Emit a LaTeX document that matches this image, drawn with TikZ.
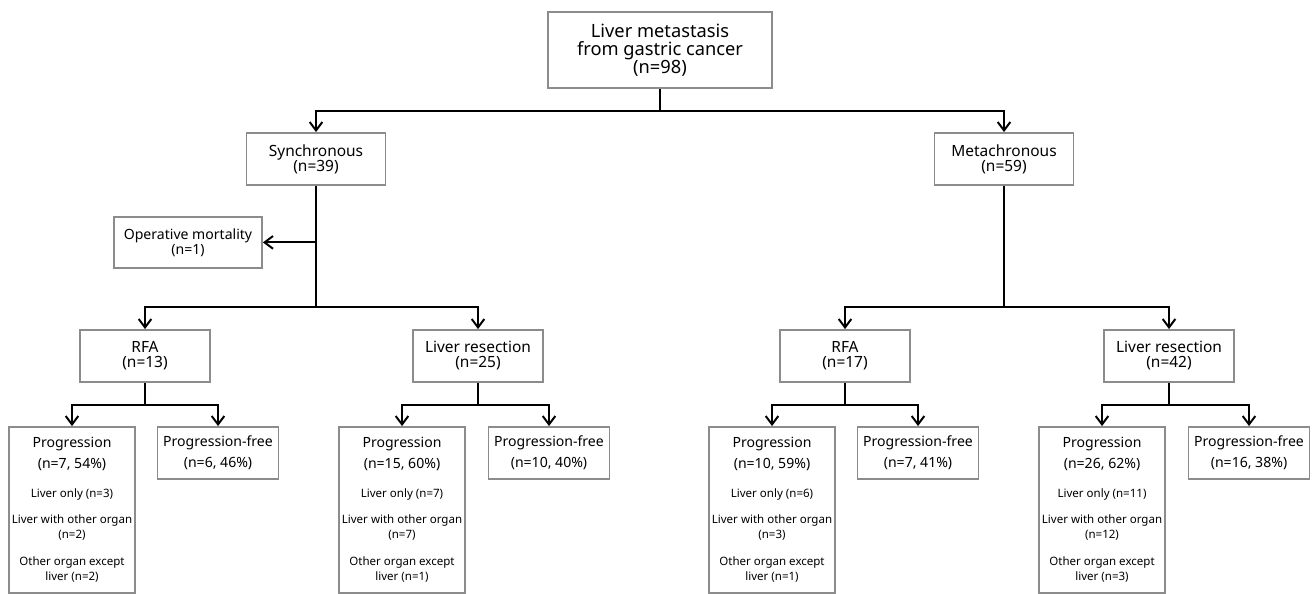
\documentclass[tikz,border=0pt]{standalone}
\usepackage{fontspec}
\setmainfont{Noto Sans}
\usetikzlibrary{arrows,arrows.meta,positioning}

\newcommand{\bigline}[1]{{\fontsize{10}{11}\selectfont #1}}

\begin{document}
\begin{tikzpicture}[
    >={Straight Barb[length=6pt,width=9pt]},
    every node/.style={
        rectangle,
        draw=black!45,
        line width=1.3pt,
        align=center,
        inner sep=2pt
    },
    topbox/.style={minimum width=5.6cm, minimum height=1.9cm, font=\fontsize{13}{13}\selectfont},
    groupbox/.style={minimum width=3.475cm, minimum height=1.3cm, font=\fontsize{11}{10.7}\selectfont},
    deathbox/.style={minimum width=3.7cm, minimum height=1.275cm, font=\fontsize{10}{8.6}\selectfont},
    treatbox/.style={minimum width=3.25cm, minimum height=1.3cm, font=\fontsize{11}{10.7}\selectfont},
    progbox/.style={minimum width=3cm, minimum height=4.15cm, font=\fontsize{8.2}{11}\selectfont},
    freebox/.style={minimum width=3.025cm, minimum height=1.3cm, font=\fontsize{10}{15}\selectfont},
    link/.style={->, black, line width=1.4pt}
]
    \useasboundingbox (0, 0) rectangle (32.8, -14.85);

    %top
    \node (liver_metastasis) [topbox, shift={(16.5, -1.25)}]
    {
        Liver metastasis\\from gastric cancer\\(n=98)
    };

    %timing
    \node (synchronous) [groupbox, shift={(7.9, -3.975)}]
    {
        Synchronous\\(n=39)
    };
    \node (metachronous) [groupbox, shift={(25.1, -3.975)}]
    {
        Metachronous\\(n=59)
    };
    \node (operative_mortality) [deathbox, shift={(4.7, -6.06)}]
    {
        Operative mortality\\(n=1)
    };

    %treatment
    \node (rfa_sync) [treatbox, shift={(3.625, -8.9)}]
    {
        RFA\\(n=13)
    };
    \node (resection_sync) [treatbox, shift={(11.95, -8.9)}]
    {
        Liver resection\\(n=25)
    };
    \node (rfa_meta) [treatbox, shift={(21.125, -8.9)}]
    {
        RFA\\(n=17)
    };
    \node (resection_meta) [treatbox, shift={(29.225, -8.9)}]
    {
        Liver resection\\(n=42)
    };

    %outcome
    \node (progression_rfa_sync) [progbox, shift={(1.8, -12.75)}]
    {
        \bigline{Progression}\\[4pt]\bigline{(n=7, 54\%)}\\[9pt]
        Liver only (n=3)\\[7.5pt]
        Liver with other organ\\(n=2)\\[8pt]
        Other organ except\\liver (n=2)
    };
    \node (free_rfa_sync) [freebox, shift={(5.45, -11.325)}]
    {
        Progression-free\\(n=6, 46\%)
    };

    \node (progression_resection_sync) [progbox, shift={(10.05, -12.75)}]
    {
        \bigline{Progression}\\[4pt]\bigline{(n=15, 60\%)}\\[9pt]
        Liver only (n=7)\\[7.5pt]
        Liver with other organ\\(n=7)\\[8pt]
        Other organ except\\liver (n=1)
    };
    \node (free_resection_sync) [freebox, shift={(13.725, -11.325)}]
    {
        Progression-free\\(n=10, 40\%)
    };

    \node (progression_rfa_meta) [progbox, shift={(19.3, -12.75)}]
    {
        \bigline{Progression}\\[4pt]\bigline{(n=10, 59\%)}\\[9pt]
        Liver only (n=6)\\[7.5pt]
        Liver with other organ\\(n=3)\\[8pt]
        Other organ except\\liver (n=1)
    };
    \node (free_rfa_meta) [freebox, shift={(22.95, -11.325)}]
    {
        Progression-free\\(n=7, 41\%)
    };

    \node (progression_resection_meta) [progbox, shift={(27.55, -12.75)}]
    {
        \bigline{Progression}\\[4pt]\bigline{(n=26, 62\%)}\\[9pt]
        Liver only (n=11)\\[7.5pt]
        Liver with other organ\\(n=12)\\[8pt]
        Other organ except\\liver (n=3)
    };
    \node (free_resection_meta) [freebox, shift={(31.225, -11.325)}]
    {
        Progression-free\\(n=16, 38\%)
    };

    %top
    \draw[link] (liver_metastasis.south) -- ++(0, -0.55) -| (synchronous.north);
    \draw[link] (liver_metastasis.south) -- ++(0, -0.55) -| (metachronous.north);

    %timing
    \draw[link] (synchronous.south |- operative_mortality.east) -- (operative_mortality.east);
    \draw[link] (synchronous.south) -- ++(0, -3.025) -| (rfa_sync.north);
    \draw[link] (synchronous.south) -- ++(0, -3.025) -| (resection_sync.north);
    \draw[link] (metachronous.south) -- ++(0, -3.025) -| (rfa_meta.north);
    \draw[link] (metachronous.south) -- ++(0, -3.025) -| (resection_meta.north);

    %treatment
    \draw[link] (rfa_sync.south) -- ++(0, -0.55) -| (progression_rfa_sync.north);
    \draw[link] (rfa_sync.south) -- ++(0, -0.55) -| (free_rfa_sync.north);
    \draw[link] (resection_sync.south) -- ++(0, -0.55) -| (progression_resection_sync.north);
    \draw[link] (resection_sync.south) -- ++(0, -0.55) -| (free_resection_sync.north);
    \draw[link] (rfa_meta.south) -- ++(0, -0.55) -| (progression_rfa_meta.north);
    \draw[link] (rfa_meta.south) -- ++(0, -0.55) -| (free_rfa_meta.north);
    \draw[link] (resection_meta.south) -- ++(0, -0.55) -| (progression_resection_meta.north);
    \draw[link] (resection_meta.south) -- ++(0, -0.55) -| (free_resection_meta.north);

\end{tikzpicture}
\end{document}
